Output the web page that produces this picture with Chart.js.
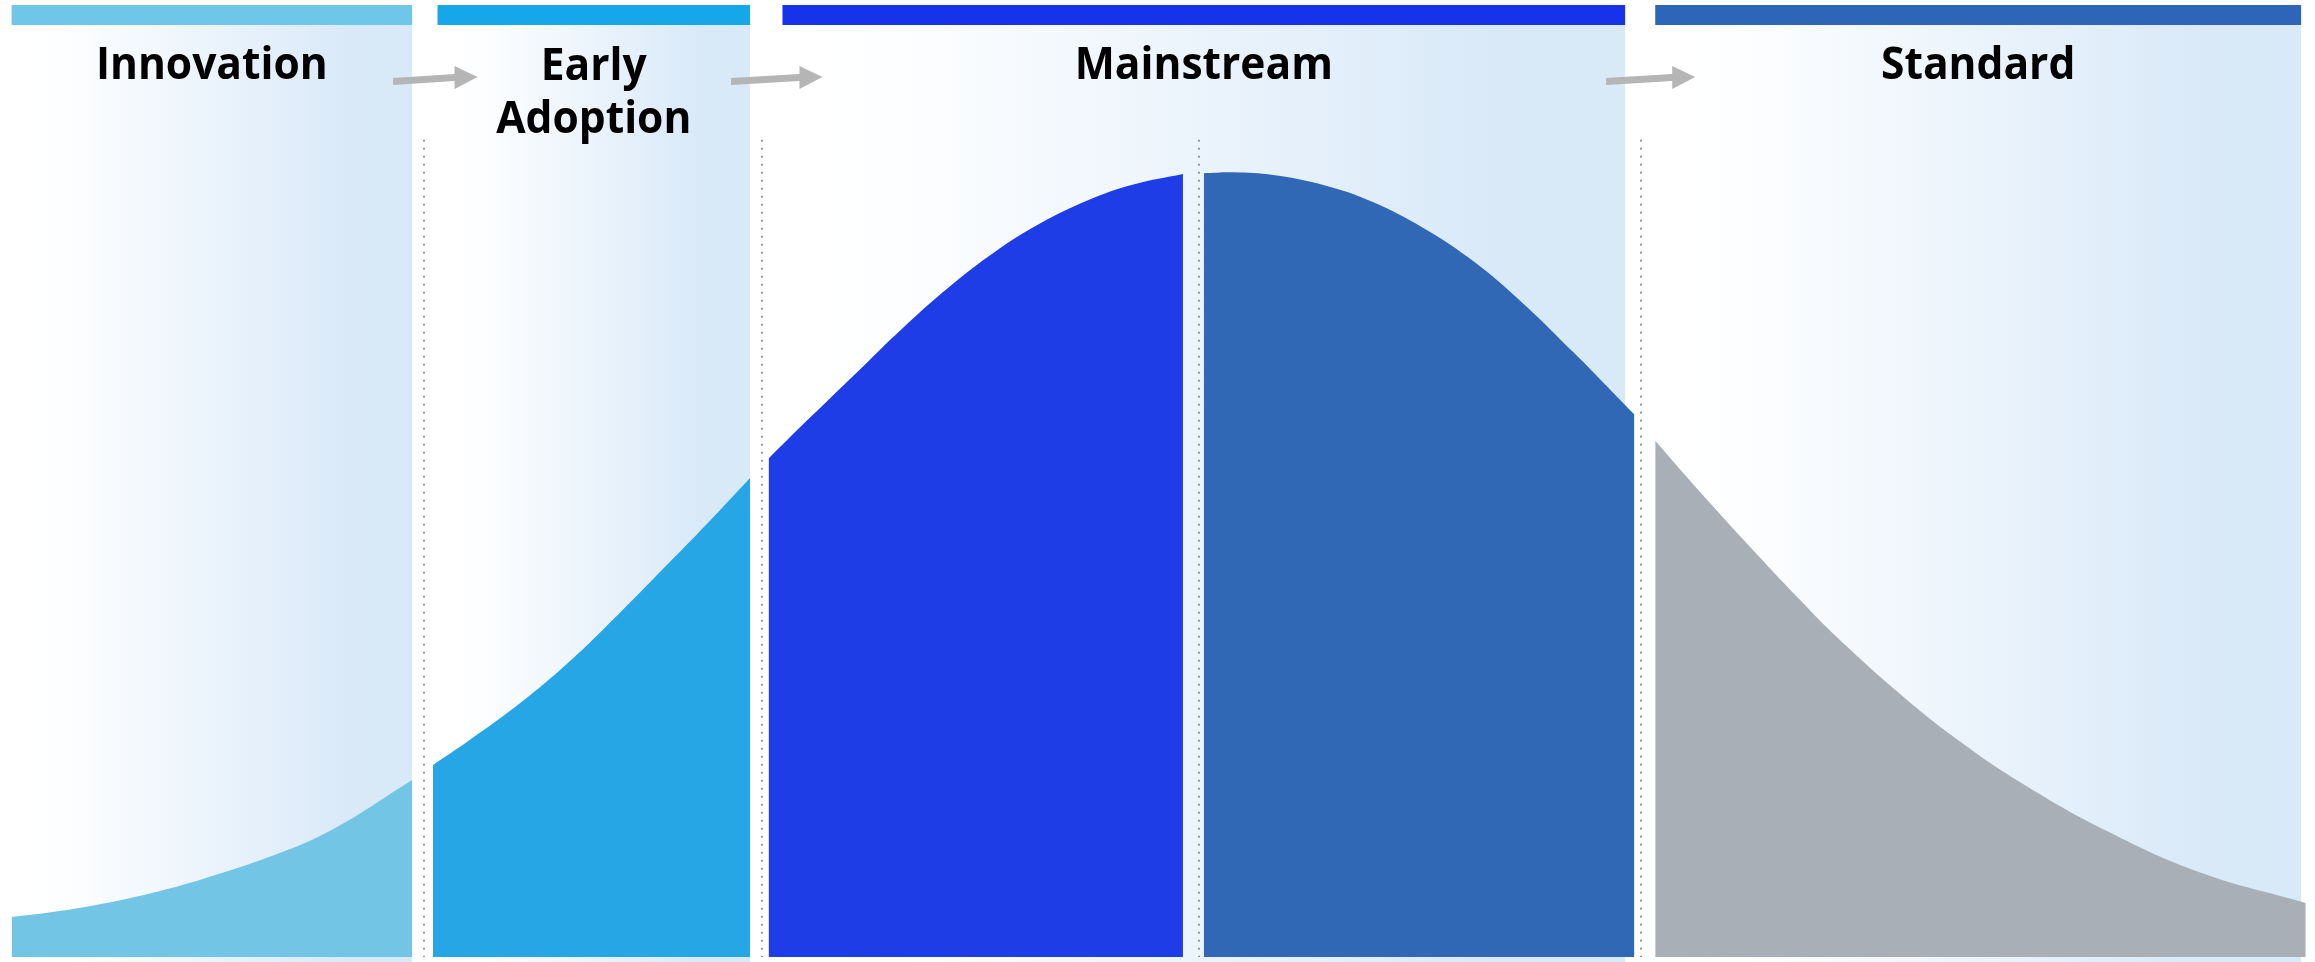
<!DOCTYPE html>
<html>
<head>
<meta charset="utf-8">
<script src="https://cdn.jsdelivr.net/npm/chart.js@4"></script>
<style>
  html, body { margin: 0; padding: 0; background: #fff; }
  #wrap { width: 2315px; height: 962px; }
</style>
</head>
<body>
<div id="wrap"><canvas id="curve" width="2315" height="962"></canvas></div>
<script>
// stages (x = time, 0..100)
const stageNames = [['Innovation'], ['Early', 'Adoption'], ['Mainstream'], ['Standard']];
const stageStart = [0.5, 18.9, 33.8, 71.5];
const stageEnd = [17.8, 32.4, 70.2, 99.4];
const stageColors = ['#6ec6e8', '#16a7ea', '#1633ea', '#2d66b8'];

// dotted dividers between the curve pieces
const dividers = [18.3, 32.9, 51.8, 70.9];
const dividerTop = 87.7;

// curve pieces (y = adoption, 0..100)
const innovationX = [0.5, 2.2, 4.2, 6.6, 8.8, 11.7, 14.3, 17.8];
const innovationY = [4.3, 4.8, 5.6, 6.9, 8.4, 10.8, 13.6, 19.0];

const earlyX = [18.7, 20.3, 22.5, 24.6, 26.8, 28.9, 30.7, 32.4];
const earlyY = [20.6, 23.3, 27.3, 31.7, 37.0, 42.3, 46.9, 51.4];

const mainLeftX = [33.2, 35.0, 37.0, 39.0, 41.0, 43.0, 45.0, 47.0, 49.0, 51.1];
const mainLeftY = [53.5, 57.9, 62.7, 67.5, 71.9, 75.7, 78.8, 81.2, 82.9, 84.0];

const mainRightX = [52.0, 53.3, 55.0, 57.2, 59.3, 61.5, 63.4, 65.5, 68.0, 70.6];
const mainRightY = [84.1, 84.2, 83.9, 82.8, 81.0, 78.2, 75.1, 70.8, 64.8, 58.2];

const standardX = [71.5, 73.4, 75.3, 77.8, 79.4, 81.9, 84.3, 87.3, 91.1, 95.1, 99.6];
const standardY = [55.4, 50.0, 44.8, 38.2, 34.2, 28.6, 23.8, 18.7, 13.4, 9.0, 5.8];

const pieces = [
  [innovationX, innovationY, '#72c5e5'],
  [earlyX, earlyY, '#27a6e6'],
  [mainLeftX, mainLeftY, '#1f3de6'],
  [mainRightX, mainRightY, '#3068b5'],
  [standardX, standardY, '#a8afb6'],
];

const stagePanels = {
  id: 'stagePanels',
  beforeDatasetsDraw(chart) {
    const { ctx, chartArea, scales: { x, y } } = chart;
    ctx.save();
    stageStart.forEach((s, i) => {
      const x0 = x.getPixelForValue(s);
      const x1 = x.getPixelForValue(stageEnd[i]);
      const g = ctx.createLinearGradient(x0, 0, x1, 0);
      g.addColorStop(0, '#ffffff');
      g.addColorStop(0.14, '#fdfeff');
      g.addColorStop(0.85, '#d9e9f8');
      g.addColorStop(1, '#d8e9f8');
      ctx.fillStyle = g;
      ctx.fillRect(x0, chartArea.top, x1 - x0, chart.height - chartArea.top);
      ctx.fillStyle = stageColors[i];
      ctx.fillRect(x0, 5, x1 - x0, chartArea.top - 5);
    });

    ctx.strokeStyle = '#999999';
    ctx.lineWidth = 2;
    ctx.setLineDash([2, 6]);
    dividers.forEach(d => {
      const px = Math.round(x.getPixelForValue(d));
      ctx.beginPath();
      ctx.moveTo(px, y.getPixelForValue(dividerTop));
      ctx.lineTo(px, chartArea.bottom);
      ctx.stroke();
    });
    ctx.restore();
  },
  afterDatasetsDraw(chart) {
    const { ctx, scales: { x } } = chart;
    ctx.save();
    // arrows between stages
    ctx.fillStyle = '#b5b5b5';
    for (let i = 0; i < stageStart.length - 1; i++) {
      const a = x.getPixelForValue(stageEnd[i]) - 19;
      const tip = x.getPixelForValue(stageStart[i + 1]) + 40;
      const base = tip - 23;
      ctx.beginPath();
      ctx.moveTo(a, 78);
      ctx.lineTo(base, 74);
      ctx.lineTo(base, 66);
      ctx.lineTo(tip, 77);
      ctx.lineTo(base, 89);
      ctx.lineTo(base, 81);
      ctx.lineTo(a, 85);
      ctx.closePath();
      ctx.fill();
    }
    // stage titles, a bit condensed like the original
    ctx.fillStyle = '#000';
    ctx.font = 'bold 45px "Open Sans"';
    ctx.textAlign = 'center';
    ctx.textBaseline = 'alphabetic';
    stageNames.forEach((lines, i) => {
      const cx = (x.getPixelForValue(stageStart[i]) + x.getPixelForValue(stageEnd[i])) / 2;
      const top = lines.length > 1 ? 80 : 79;
      lines.forEach((t, j) => {
        ctx.save();
        ctx.translate(cx, top + j * 53);
        ctx.scale(0.945, 1);
        ctx.fillText(t, 0, 0);
        ctx.restore();
      });
    });
    ctx.restore();
  }
};

new Chart(document.getElementById('curve'), {
  type: 'line',
  data: {
    datasets: pieces.map(([xs, ys, color]) => ({
      data: xs.map((v, k) => ({ x: v, y: ys[k] })),
      backgroundColor: color,
      borderColor: color,
      borderWidth: 0,
      pointRadius: 0,
      fill: 'origin',
      tension: 0.4,
    })),
  },
  options: {
    responsive: false,
    animation: false,
    devicePixelRatio: 1,
    layout: { padding: { top: 25, bottom: 5, left: 0, right: 0 } },
    plugins: { legend: { display: false }, tooltip: { enabled: false } },
    scales: {
      x: { type: 'linear', min: 0, max: 100, display: false },
      y: { min: 0, max: 100, display: false },
    },
  },
  plugins: [stagePanels],
});
</script>
</body>
</html>
